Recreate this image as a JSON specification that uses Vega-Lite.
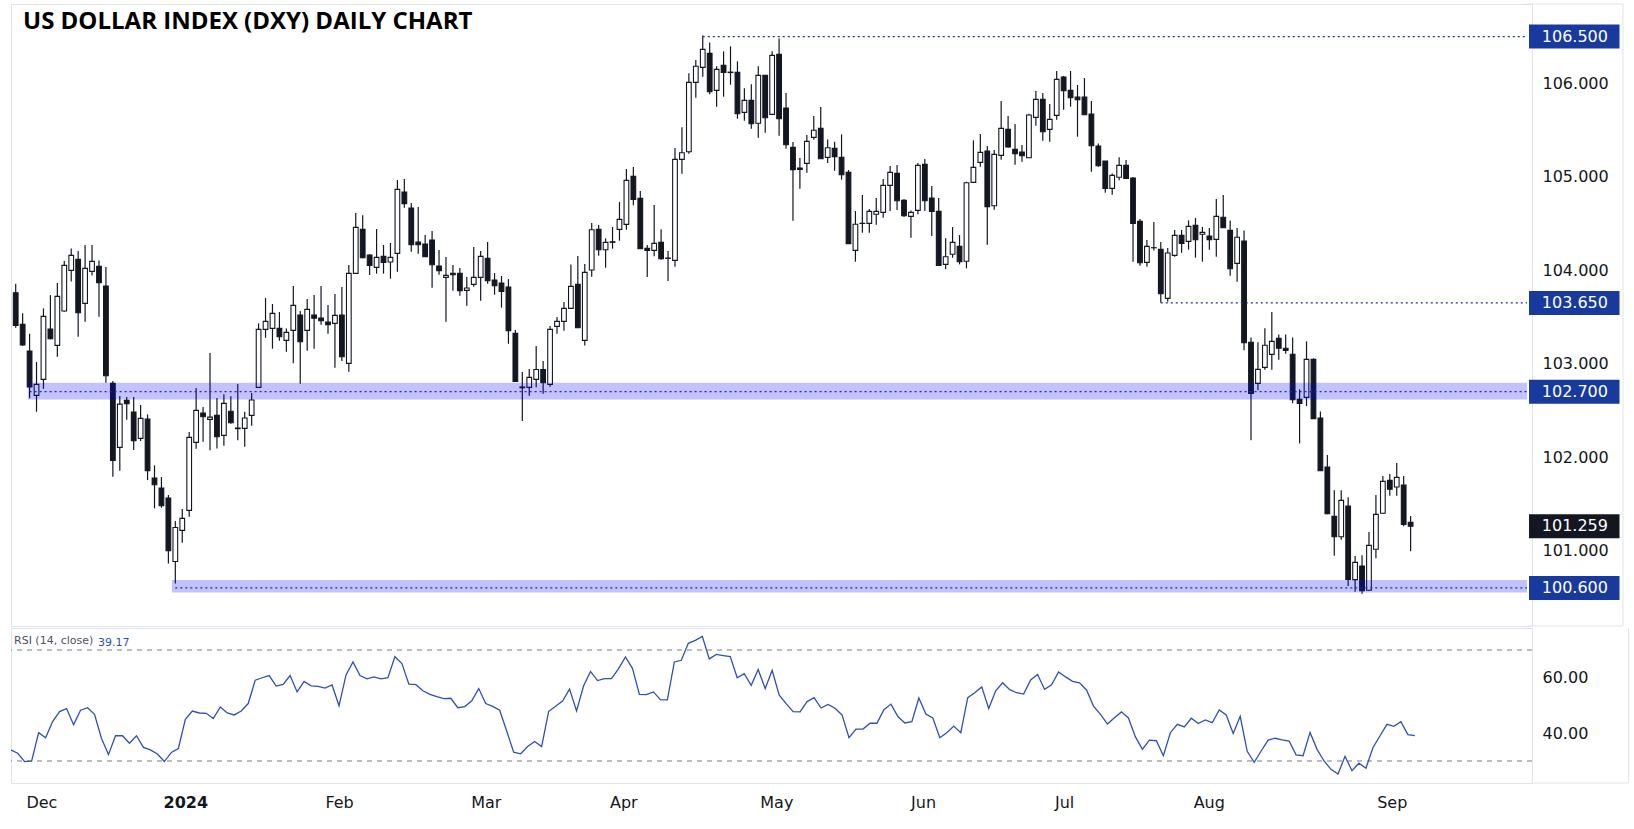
{
  "$schema": "https://vega.github.io/schema/vega-lite/v6.json",
  "padding": {"left": 10, "top": 3, "right": 0, "bottom": 0},
  "background": "#ffffff",
  "spacing": 0,
  "config": {
    "view": {"stroke": "#e0e3eb", "strokeWidth": 1},
    "axis": {"grid": false, "ticks": false, "domain": false, "title": null, "labelFont": "DejaVu Sans", "labelFontSize": 16, "labelColor": "#131722"}
  },
  "datasets": {
    "bars": [
      {"i":0,"o":103.759,"h":103.855,"l":103.384,"c":103.409,"r":34.0},
      {"i":1,"o":103.42,"h":103.54,"l":103.19,"c":103.2,"r":32.8},
      {"i":2,"o":103.135,"h":103.32,"l":102.63,"c":102.75,"r":29.8},
      {"i":3,"o":102.66,"h":103.017,"l":102.485,"c":102.778,"r":30.0},
      {"i":4,"o":102.831,"h":103.591,"l":102.731,"c":103.506,"r":40.2},
      {"i":5,"o":103.37,"h":103.734,"l":103.26,"c":103.267,"r":38.4},
      {"i":6,"o":103.195,"h":103.862,"l":103.074,"c":103.72,"r":44.2},
      {"i":7,"o":103.563,"h":104.098,"l":103.556,"c":104.052,"r":47.8},
      {"i":8,"o":103.998,"h":104.233,"l":103.88,"c":104.159,"r":48.9},
      {"i":9,"o":104.116,"h":104.205,"l":103.288,"c":103.545,"r":43.1},
      {"i":10,"o":103.645,"h":104.269,"l":103.449,"c":104.019,"r":48.3},
      {"i":11,"o":103.987,"h":104.269,"l":103.944,"c":104.094,"r":49.2},
      {"i":12,"o":104.041,"h":104.105,"l":103.502,"c":103.866,"r":46.8},
      {"i":13,"o":103.83,"h":104.034,"l":102.796,"c":102.871,"r":38.1},
      {"i":14,"o":102.789,"h":102.814,"l":101.79,"c":101.964,"r":32.3},
      {"i":15,"o":102.104,"h":102.653,"l":101.854,"c":102.567,"r":39.1},
      {"i":16,"o":102.607,"h":102.642,"l":102.4,"c":102.571,"r":39.1},
      {"i":17,"o":102.482,"h":102.642,"l":102.075,"c":102.175,"r":36.4},
      {"i":18,"o":102.2,"h":102.557,"l":102.171,"c":102.414,"r":39.1},
      {"i":19,"o":102.407,"h":102.457,"l":101.754,"c":101.854,"r":34.9},
      {"i":20,"o":101.775,"h":101.911,"l":101.451,"c":101.704,"r":34.0},
      {"i":21,"o":101.668,"h":101.786,"l":101.458,"c":101.479,"r":32.5},
      {"i":22,"o":101.561,"h":101.593,"l":100.862,"c":100.998,"r":29.8},
      {"i":23,"o":100.883,"h":101.315,"l":100.648,"c":101.247,"r":33.1},
      {"i":24,"o":101.215,"h":101.444,"l":101.083,"c":101.344,"r":34.5},
      {"i":25,"o":101.429,"h":102.268,"l":101.362,"c":102.211,"r":45.0},
      {"i":26,"o":102.157,"h":102.739,"l":102.09,"c":102.5,"r":48.0},
      {"i":27,"o":102.471,"h":102.535,"l":102.164,"c":102.432,"r":47.3},
      {"i":28,"o":102.403,"h":103.113,"l":102.072,"c":102.428,"r":47.2},
      {"i":29,"o":102.446,"h":102.632,"l":102.093,"c":102.218,"r":45.3},
      {"i":30,"o":102.232,"h":102.671,"l":102.122,"c":102.575,"r":49.5},
      {"i":31,"o":102.49,"h":102.65,"l":102.357,"c":102.368,"r":47.3},
      {"i":32,"o":102.311,"h":102.782,"l":102.179,"c":102.304,"r":46.6},
      {"i":33,"o":102.307,"h":102.486,"l":102.111,"c":102.418,"r":48.0},
      {"i":34,"o":102.446,"h":102.685,"l":102.336,"c":102.61,"r":50.7},
      {"i":35,"o":102.746,"h":103.431,"l":102.742,"c":103.367,"r":59.1},
      {"i":36,"o":103.367,"h":103.702,"l":103.277,"c":103.452,"r":60.0},
      {"i":37,"o":103.377,"h":103.638,"l":103.16,"c":103.538,"r":60.8},
      {"i":38,"o":103.377,"h":103.552,"l":103.245,"c":103.288,"r":57.0},
      {"i":39,"o":103.249,"h":103.377,"l":103.128,"c":103.335,"r":57.6},
      {"i":40,"o":103.356,"h":103.831,"l":103.003,"c":103.624,"r":60.8},
      {"i":41,"o":103.52,"h":103.563,"l":102.785,"c":103.235,"r":54.9},
      {"i":42,"o":103.356,"h":103.691,"l":103.138,"c":103.581,"r":58.7},
      {"i":43,"o":103.52,"h":103.734,"l":103.16,"c":103.485,"r":57.1},
      {"i":44,"o":103.488,"h":103.831,"l":103.417,"c":103.46,"r":56.9},
      {"i":45,"o":103.445,"h":103.627,"l":103.32,"c":103.417,"r":56.3},
      {"i":46,"o":103.431,"h":103.745,"l":102.957,"c":103.517,"r":57.4},
      {"i":47,"o":103.52,"h":103.82,"l":103.028,"c":103.074,"r":49.9},
      {"i":48,"o":103.003,"h":104.055,"l":102.914,"c":103.966,"r":61.0},
      {"i":49,"o":103.966,"h":104.612,"l":103.963,"c":104.458,"r":65.7},
      {"i":50,"o":104.437,"h":104.587,"l":104.127,"c":104.134,"r":60.8},
      {"i":51,"o":104.162,"h":104.17,"l":103.948,"c":104.052,"r":59.6},
      {"i":52,"o":104.03,"h":104.441,"l":103.963,"c":104.137,"r":60.3},
      {"i":53,"o":104.148,"h":104.27,"l":103.963,"c":104.084,"r":59.6},
      {"i":54,"o":104.087,"h":104.291,"l":103.909,"c":104.137,"r":60.0},
      {"i":55,"o":104.18,"h":104.965,"l":103.984,"c":104.865,"r":67.6},
      {"i":56,"o":104.837,"h":104.976,"l":104.669,"c":104.712,"r":65.1},
      {"i":57,"o":104.665,"h":104.719,"l":104.198,"c":104.273,"r":57.7},
      {"i":58,"o":104.301,"h":104.676,"l":104.177,"c":104.273,"r":57.5},
      {"i":59,"o":104.28,"h":104.376,"l":104.141,"c":104.144,"r":55.3},
      {"i":60,"o":104.323,"h":104.419,"l":103.813,"c":104.059,"r":54.0},
      {"i":61,"o":104.045,"h":104.216,"l":103.952,"c":103.995,"r":53.2},
      {"i":62,"o":103.923,"h":104.141,"l":103.449,"c":103.945,"r":52.5},
      {"i":63,"o":103.966,"h":104.055,"l":103.781,"c":103.952,"r":52.6},
      {"i":64,"o":103.966,"h":104.023,"l":103.727,"c":103.781,"r":49.2},
      {"i":65,"o":103.784,"h":103.927,"l":103.62,"c":103.809,"r":49.6},
      {"i":66,"o":103.848,"h":104.248,"l":103.823,"c":103.923,"r":51.7},
      {"i":67,"o":103.923,"h":104.205,"l":103.674,"c":104.148,"r":56.1},
      {"i":68,"o":104.126,"h":104.301,"l":103.855,"c":103.887,"r":50.7},
      {"i":69,"o":103.895,"h":103.97,"l":103.738,"c":103.834,"r":49.7},
      {"i":70,"o":103.863,"h":103.938,"l":103.599,"c":103.773,"r":48.3},
      {"i":71,"o":103.82,"h":103.905,"l":103.213,"c":103.352,"r":40.8},
      {"i":72,"o":103.324,"h":103.36,"l":102.81,"c":102.81,"r":33.2},
      {"i":73,"o":102.742,"h":102.91,"l":102.386,"c":102.75,"r":32.6},
      {"i":74,"o":102.746,"h":102.942,"l":102.657,"c":102.853,"r":35.2},
      {"i":75,"o":102.831,"h":103.188,"l":102.746,"c":102.938,"r":37.0},
      {"i":76,"o":102.938,"h":103.028,"l":102.678,"c":102.796,"r":35.2},
      {"i":77,"o":102.778,"h":103.402,"l":102.753,"c":103.367,"r":47.8},
      {"i":78,"o":103.399,"h":103.499,"l":103.32,"c":103.452,"r":49.7},
      {"i":79,"o":103.452,"h":103.659,"l":103.352,"c":103.591,"r":51.6},
      {"i":80,"o":103.591,"h":104.062,"l":103.591,"c":103.827,"r":55.9},
      {"i":81,"o":103.848,"h":104.152,"l":103.384,"c":103.384,"r":48.0},
      {"i":82,"o":103.249,"h":104.066,"l":103.195,"c":103.977,"r":57.0},
      {"i":83,"o":104.002,"h":104.505,"l":103.93,"c":104.433,"r":62.3},
      {"i":84,"o":104.437,"h":104.483,"l":104.155,"c":104.219,"r":59.0},
      {"i":85,"o":104.219,"h":104.341,"l":104.027,"c":104.298,"r":59.7},
      {"i":86,"o":104.298,"h":104.462,"l":104.23,"c":104.305,"r":59.7},
      {"i":87,"o":104.437,"h":104.729,"l":104.316,"c":104.544,"r":63.2},
      {"i":88,"o":104.49,"h":105.083,"l":104.433,"c":104.961,"r":67.5},
      {"i":89,"o":105.004,"h":105.104,"l":104.694,"c":104.758,"r":63.4},
      {"i":90,"o":104.769,"h":104.847,"l":104.23,"c":104.23,"r":54.0},
      {"i":91,"o":104.234,"h":104.27,"l":103.927,"c":104.212,"r":53.9},
      {"i":92,"o":104.212,"h":104.698,"l":104.148,"c":104.287,"r":54.9},
      {"i":93,"o":104.298,"h":104.437,"l":104.112,"c":104.123,"r":52.1},
      {"i":94,"o":104.13,"h":104.205,"l":103.884,"c":104.127,"r":52.0},
      {"i":95,"o":104.105,"h":105.307,"l":104.037,"c":105.186,"r":65.7},
      {"i":96,"o":105.186,"h":105.529,"l":105.033,"c":105.257,"r":66.3},
      {"i":97,"o":105.268,"h":106.107,"l":105.247,"c":106.01,"r":72.4},
      {"i":98,"o":106.01,"h":106.249,"l":105.846,"c":106.182,"r":73.5},
      {"i":99,"o":106.171,"h":106.513,"l":106.071,"c":106.363,"r":74.9},
      {"i":100,"o":106.321,"h":106.438,"l":105.882,"c":105.91,"r":66.8},
      {"i":101,"o":105.925,"h":106.182,"l":105.75,"c":106.149,"r":68.4},
      {"i":102,"o":106.192,"h":106.342,"l":105.857,"c":106.117,"r":68.0},
      {"i":103,"o":106.12,"h":106.396,"l":105.985,"c":106.115,"r":67.6},
      {"i":104,"o":106.117,"h":106.235,"l":105.621,"c":105.675,"r":60.0},
      {"i":105,"o":105.689,"h":105.946,"l":105.6,"c":105.818,"r":61.5},
      {"i":106,"o":105.818,"h":105.989,"l":105.514,"c":105.568,"r":57.3},
      {"i":107,"o":105.572,"h":106.182,"l":105.418,"c":106.085,"r":63.0},
      {"i":108,"o":106.085,"h":106.085,"l":105.472,"c":105.632,"r":56.1},
      {"i":109,"o":105.668,"h":106.342,"l":105.664,"c":106.299,"r":62.7},
      {"i":110,"o":106.31,"h":106.481,"l":105.439,"c":105.621,"r":53.8},
      {"i":111,"o":105.736,"h":105.896,"l":105.3,"c":105.343,"r":50.7},
      {"i":112,"o":105.315,"h":105.372,"l":104.53,"c":105.076,"r":47.8},
      {"i":113,"o":105.093,"h":105.2,"l":104.872,"c":105.079,"r":47.7},
      {"i":114,"o":105.143,"h":105.447,"l":105.043,"c":105.379,"r":51.4},
      {"i":115,"o":105.422,"h":105.65,"l":105.397,"c":105.497,"r":52.8},
      {"i":116,"o":105.518,"h":105.746,"l":105.193,"c":105.193,"r":49.1},
      {"i":117,"o":105.208,"h":105.4,"l":105.147,"c":105.311,"r":50.4},
      {"i":118,"o":105.304,"h":105.375,"l":105.065,"c":105.215,"r":49.0},
      {"i":119,"o":105.208,"h":105.454,"l":104.969,"c":105.022,"r":46.6},
      {"i":120,"o":105.047,"h":105.072,"l":104.284,"c":104.284,"r":38.4},
      {"i":121,"o":104.212,"h":104.633,"l":104.091,"c":104.491,"r":41.5},
      {"i":122,"o":104.5,"h":104.805,"l":104.401,"c":104.502,"r":41.5},
      {"i":123,"o":104.501,"h":104.655,"l":104.401,"c":104.63,"r":43.6},
      {"i":124,"o":104.598,"h":104.773,"l":104.487,"c":104.63,"r":43.6},
      {"i":125,"o":104.619,"h":104.976,"l":104.562,"c":104.908,"r":48.5},
      {"i":126,"o":104.908,"h":105.115,"l":104.633,"c":105.047,"r":50.5},
      {"i":127,"o":105.036,"h":105.126,"l":104.644,"c":104.744,"r":46.0},
      {"i":128,"o":104.747,"h":104.762,"l":104.569,"c":104.583,"r":43.7},
      {"i":129,"o":104.576,"h":104.64,"l":104.348,"c":104.619,"r":44.2},
      {"i":130,"o":104.64,"h":105.147,"l":104.598,"c":105.122,"r":52.7},
      {"i":131,"o":105.133,"h":105.19,"l":104.633,"c":104.744,"r":46.9},
      {"i":132,"o":104.772,"h":104.901,"l":104.366,"c":104.63,"r":45.5},
      {"i":133,"o":104.63,"h":104.772,"l":104.052,"c":104.052,"r":38.4},
      {"i":134,"o":104.062,"h":104.341,"l":104.009,"c":104.144,"r":40.2},
      {"i":135,"o":104.17,"h":104.462,"l":104.134,"c":104.298,"r":42.6},
      {"i":136,"o":104.255,"h":104.376,"l":104.062,"c":104.091,"r":40.2},
      {"i":137,"o":104.095,"h":104.947,"l":104.02,"c":104.936,"r":52.8},
      {"i":138,"o":104.94,"h":105.39,"l":104.936,"c":105.1,"r":54.6},
      {"i":139,"o":105.154,"h":105.457,"l":105.108,"c":105.261,"r":56.7},
      {"i":140,"o":105.275,"h":105.329,"l":104.273,"c":104.68,"r":48.9},
      {"i":141,"o":104.69,"h":105.286,"l":104.648,"c":105.24,"r":55.3},
      {"i":142,"o":105.229,"h":105.81,"l":105.183,"c":105.518,"r":58.2},
      {"i":143,"o":105.507,"h":105.65,"l":105.311,"c":105.318,"r":55.7},
      {"i":144,"o":105.293,"h":105.564,"l":105.129,"c":105.247,"r":54.6},
      {"i":145,"o":105.264,"h":105.34,"l":105.161,"c":105.225,"r":54.1},
      {"i":146,"o":105.204,"h":105.675,"l":105.2,"c":105.661,"r":59.2},
      {"i":147,"o":105.636,"h":105.918,"l":105.546,"c":105.828,"r":61.2},
      {"i":148,"o":105.828,"h":105.896,"l":105.386,"c":105.482,"r":55.8},
      {"i":149,"o":105.507,"h":105.778,"l":105.375,"c":105.614,"r":57.5},
      {"i":150,"o":105.657,"h":106.132,"l":105.611,"c":106.042,"r":62.1},
      {"i":151,"o":106.067,"h":106.078,"l":105.718,"c":105.921,"r":60.3},
      {"i":152,"o":105.925,"h":106.132,"l":105.75,"c":105.846,"r":58.7},
      {"i":153,"o":105.853,"h":105.982,"l":105.429,"c":105.825,"r":58.2},
      {"i":154,"o":105.853,"h":106.057,"l":105.661,"c":105.664,"r":55.6},
      {"i":155,"o":105.671,"h":105.81,"l":105.054,"c":105.332,"r":49.8},
      {"i":156,"o":105.329,"h":105.357,"l":105.108,"c":105.118,"r":46.8},
      {"i":157,"o":105.168,"h":105.168,"l":104.83,"c":104.876,"r":43.3},
      {"i":158,"o":104.876,"h":105.036,"l":104.808,"c":105.015,"r":45.6},
      {"i":159,"o":104.994,"h":105.208,"l":104.962,"c":105.122,"r":47.7},
      {"i":160,"o":105.122,"h":105.179,"l":104.98,"c":104.983,"r":45.5},
      {"i":161,"o":104.987,"h":104.997,"l":104.091,"c":104.501,"r":38.7},
      {"i":162,"o":104.523,"h":104.548,"l":104.048,"c":104.08,"r":34.2},
      {"i":163,"o":104.084,"h":104.323,"l":104.037,"c":104.255,"r":37.5},
      {"i":164,"o":104.24,"h":104.516,"l":104.212,"c":104.241,"r":37.3},
      {"i":165,"o":104.223,"h":104.301,"l":103.652,"c":103.748,"r":31.9},
      {"i":166,"o":103.698,"h":104.237,"l":103.663,"c":104.184,"r":40.2},
      {"i":167,"o":104.159,"h":104.43,"l":104.145,"c":104.373,"r":43.2},
      {"i":168,"o":104.373,"h":104.43,"l":104.187,"c":104.287,"r":42.3},
      {"i":169,"o":104.309,"h":104.533,"l":104.22,"c":104.469,"r":45.4},
      {"i":170,"o":104.48,"h":104.558,"l":104.134,"c":104.326,"r":43.5},
      {"i":171,"o":104.384,"h":104.462,"l":104.091,"c":104.405,"r":44.8},
      {"i":172,"o":104.366,"h":104.451,"l":104.22,"c":104.326,"r":43.8},
      {"i":173,"o":104.33,"h":104.762,"l":104.145,"c":104.576,"r":48.4},
      {"i":174,"o":104.566,"h":104.805,"l":104.452,"c":104.455,"r":46.6},
      {"i":175,"o":104.426,"h":104.533,"l":103.941,"c":104.016,"r":39.9},
      {"i":176,"o":104.073,"h":104.451,"l":103.877,"c":104.352,"r":46.1},
      {"i":177,"o":104.312,"h":104.426,"l":103.142,"c":103.224,"r":33.5},
      {"i":178,"o":103.228,"h":103.281,"l":102.179,"c":102.682,"r":29.5},
      {"i":179,"o":102.789,"h":103.228,"l":102.714,"c":102.939,"r":33.6},
      {"i":180,"o":102.96,"h":103.378,"l":102.935,"c":103.196,"r":37.5},
      {"i":181,"o":103.099,"h":103.552,"l":102.935,"c":103.238,"r":38.2},
      {"i":182,"o":103.27,"h":103.313,"l":103.042,"c":103.164,"r":37.6},
      {"i":183,"o":103.164,"h":103.313,"l":103.106,"c":103.142,"r":37.2},
      {"i":184,"o":103.099,"h":103.281,"l":102.575,"c":102.614,"r":32.2},
      {"i":185,"o":102.618,"h":102.725,"l":102.146,"c":102.575,"r":31.9},
      {"i":186,"o":102.639,"h":103.238,"l":102.546,"c":103.046,"r":40.3},
      {"i":187,"o":103.046,"h":103.056,"l":102.411,"c":102.411,"r":34.2},
      {"i":188,"o":102.418,"h":102.489,"l":101.854,"c":101.854,"r":30.0},
      {"i":189,"o":101.893,"h":102.022,"l":101.387,"c":101.394,"r":27.0},
      {"i":190,"o":101.365,"h":101.644,"l":100.944,"c":101.148,"r":25.3},
      {"i":191,"o":101.148,"h":101.644,"l":101.116,"c":101.537,"r":31.7},
      {"i":192,"o":101.476,"h":101.569,"l":100.62,"c":100.691,"r":26.5},
      {"i":193,"o":100.688,"h":100.941,"l":100.559,"c":100.873,"r":29.2},
      {"i":194,"o":100.834,"h":100.948,"l":100.538,"c":100.57,"r":27.4},
      {"i":195,"o":100.574,"h":101.198,"l":100.57,"c":101.055,"r":34.8},
      {"i":196,"o":101.013,"h":101.594,"l":100.916,"c":101.387,"r":39.0},
      {"i":197,"o":101.398,"h":101.797,"l":101.394,"c":101.74,"r":43.2},
      {"i":198,"o":101.751,"h":101.819,"l":101.587,"c":101.655,"r":42.5},
      {"i":199,"o":101.68,"h":101.936,"l":101.587,"c":101.783,"r":44.2},
      {"i":200,"o":101.701,"h":101.797,"l":101.259,"c":101.28,"r":39.5},
      {"i":201,"o":101.301,"h":101.369,"l":100.991,"c":101.259,"r":39.17}
    ],
    "levels": [
      {"v":106.5,"t":"106.500","kind":"lvl","lf":99},
      {"v":103.65,"t":"103.650","kind":"lvl","lf":165},
      {"v":102.7,"t":"102.700","kind":"lvl","lf":2,"bf":1.75,"lo":102.615,"hi":102.795},
      {"v":100.6,"t":"100.600","kind":"lvl","lf":23,"bf":22.5,"lo":100.55,"hi":100.685},
      {"v":101.259,"t":"101.259","kind":"last"}
    ],
    "frameTop": [{"y": 106.849}, {"y": 100.192}],
    "frameBottom": [{"y": 22.07}]
  },
  "vconcat": [
    {
      "width": 1521,
      "height": 622,
      "title": {"text": "US DOLLAR INDEX (DXY) DAILY CHART", "anchor": "start", "orient": "top", "frame": "group", "offset": -30, "dx": 12, "font": "Open Sans", "fontSize": 24, "fontWeight": "bold", "color": "#000000"},
      "layer": [
        {
          "data": {"name": "bars"},
          "mark": {"type": "rule", "clip": true, "color": "#131722", "strokeWidth": 1.2},
          "encoding": {
            "x": {"field": "i", "type": "quantitative", "scale": {"domain": [0.043, 217.77], "nice": false, "zero": false}, "axis": null},
            "y": {"field": "l", "type": "quantitative", "scale": {"domain": [100.192, 106.849], "nice": false, "zero": false},
                  "axis": {"orient": "right", "values": [101, 102, 103, 104, 105, 106], "format": ".3f", "labelAlign": "left", "labelBaseline": "middle", "labelPadding": 10}},
            "y2": {"field": "h"}
          }
        },
        {
          "data": {"name": "bars"},
          "mark": {"type": "bar", "clip": true, "width": 4.7, "stroke": "#131722", "strokeWidth": 1.1},
          "encoding": {
            "x": {"field": "i", "type": "quantitative"},
            "y": {"field": "o", "type": "quantitative"},
            "y2": {"field": "c"},
            "fill": {"condition": {"test": "datum.c >= datum.o", "value": "#ffffff"}, "value": "#131722"}
          }
        },
        {
          "data": {"name": "levels"},
          "transform": [{"filter": "isValid(datum.lo)"}],
          "mark": {"type": "rect", "color": "#0000ff", "opacity": 0.24},
          "encoding": {
            "x": {"field": "bf", "type": "quantitative"},
            "x2": {"datum": 217.77},
            "y": {"field": "lo", "type": "quantitative"},
            "y2": {"field": "hi"}
          }
        },
        {
          "data": {"name": "levels"},
          "transform": [{"filter": "isValid(datum.lf)"}],
          "mark": {"type": "rule", "color": "#1e2f97", "strokeDash": [2, 3], "strokeWidth": 1.4},
          "encoding": {
            "x": {"field": "lf", "type": "quantitative"},
            "x2": {"datum": 217.77},
            "y": {"field": "v", "type": "quantitative"}
          }
        },
        {
          "data": {"name": "frameTop"},
          "mark": {"type": "rule", "color": "#e0e3eb", "strokeWidth": 1},
          "encoding": {
            "x": {"datum": 217.77},
            "x2": {"datum": 231.6},
            "y": {"field": "y", "type": "quantitative"}
          }
        },
        {
          "data": {"name": "frameTop"},
          "transform": [{"filter": "datum.y > 106"}],
          "mark": {"type": "rule", "color": "#e0e3eb", "strokeWidth": 1},
          "encoding": {
            "x": {"datum": 231.6},
            "y": {"datum": 100.192},
            "y2": {"datum": 106.849}
          }
        },
        {
          "data": {"name": "levels"},
          "mark": {"type": "rule", "strokeWidth": 24},
          "encoding": {
            "x": {"datum": 218.06},
            "x2": {"datum": 231.1},
            "y": {"field": "v", "type": "quantitative"},
            "color": {"field": "kind", "type": "nominal", "scale": {"domain": ["lvl", "last"], "range": ["#183a9e", "#131722"]}, "legend": null}
          }
        },
        {
          "data": {"name": "levels"},
          "mark": {"type": "text", "align": "left", "baseline": "middle", "font": "DejaVu Sans", "fontSize": 16, "color": "#ffffff"},
          "encoding": {
            "x": {"datum": 219.9},
            "y": {"field": "v", "type": "quantitative"},
            "text": {"field": "t"}
          }
        }
      ]
    },
    {
      "width": 1521,
      "height": 155,
      "title": {"text": "RSI (14, close)", "anchor": "start", "orient": "top", "frame": "group", "offset": -18.5, "dx": 3, "font": "DejaVu Sans", "fontSize": 11, "fontWeight": "normal", "color": "#50535e"},
      "layer": [
        {
          "data": {"values": [{"lv": 70}, {"lv": 30}]},
          "mark": {"type": "rule", "color": "#787b86", "strokeDash": [5, 5], "strokeWidth": 1},
          "encoding": {
            "y": {"field": "lv", "type": "quantitative", "scale": {"domain": [22.07, 77.93], "nice": false, "zero": false}}
          }
        },
        {
          "data": {"name": "frameBottom"},
          "mark": {"type": "rule", "color": "#e0e3eb", "strokeWidth": 1},
          "encoding": {
            "x": {"datum": 217.77},
            "x2": {"datum": 231.6},
            "y": {"field": "y", "type": "quantitative"}
          }
        },
        {
          "data": {"name": "frameBottom"},
          "mark": {"type": "rule", "color": "#e0e3eb", "strokeWidth": 1},
          "encoding": {
            "x": {"datum": 231.6},
            "y": {"datum": 22.07},
            "y2": {"datum": 77.93}
          }
        },
        {
          "data": {"name": "bars"},
          "mark": {"type": "line", "color": "#2f50b4", "strokeWidth": 1.3, "clip": true},
          "encoding": {
            "x": {"field": "i", "type": "quantitative", "scale": {"domain": [0.043, 217.77], "nice": false, "zero": false},
                  "axis": {"orient": "bottom", "values": [4.4, 25, 47, 68, 87.7, 109.6, 130.6, 150.8, 171.5, 197.7],
                           "labelExpr": "datum.value == 4.4 ? 'Dec' : datum.value == 25 ? '2024' : datum.value == 47 ? 'Feb' : datum.value == 68 ? 'Mar' : datum.value == 87.7 ? 'Apr' : datum.value == 109.6 ? 'May' : datum.value == 130.6 ? 'Jun' : datum.value == 150.8 ? 'Jul' : datum.value == 171.5 ? 'Aug' : 'Sep'",
                           "labelFontWeight": {"condition": {"test": "datum.value == 25", "value": "bold"}, "value": "normal"},
                           "labelPadding": 11, "labelOverlap": false, "labelFlush": false}},
            "y": {"field": "r", "type": "quantitative", "axis": {"orient": "right", "values": [40, 60], "format": ".2f", "labelAlign": "left", "labelBaseline": "middle", "labelPadding": 10}}
          }
        },
        {
          "data": {"name": "bars"},
          "transform": [{"filter": "datum.i == 201"}],
          "mark": {"type": "text", "align": "left", "baseline": "middle", "font": "DejaVu Sans", "fontSize": 11, "color": "#2f50b4"},
          "encoding": {
            "x": {"datum": 12.5},
            "y": {"datum": 72.7},
            "text": {"field": "r", "type": "quantitative", "format": ".2f"}
          }
        }
      ]
    }
  ]
}
